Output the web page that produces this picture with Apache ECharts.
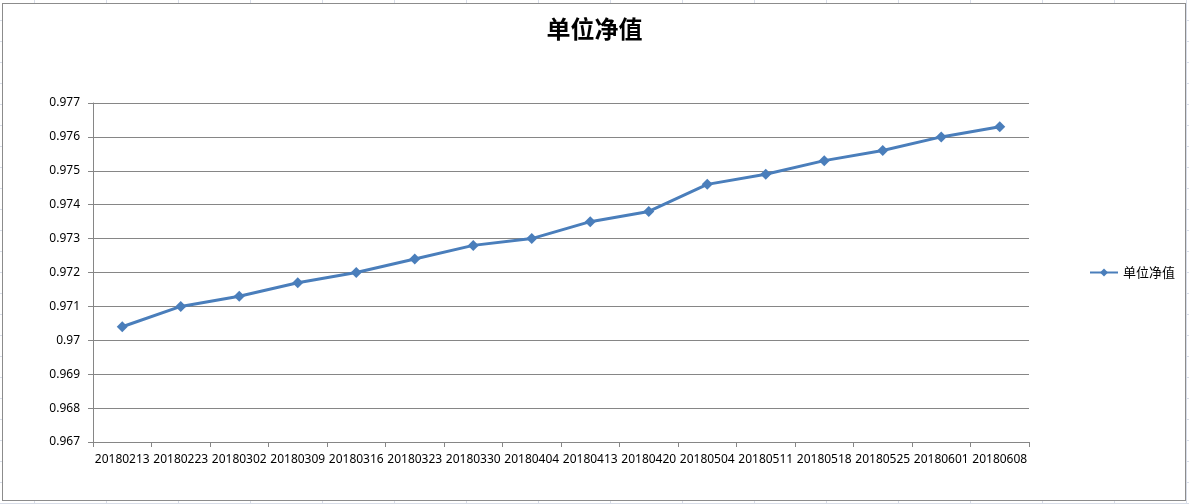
<!DOCTYPE html>
<html>
<head>
<meta charset="utf-8">
<script src="https://cdn.jsdelivr.net/npm/echarts@6/dist/echarts.min.js"></script>
<style>
html, body {
	margin: 0;
	padding: 0;
	width: 1189px;
	height: 504px;
	overflow: hidden;
	background-color: #fff;
	background-image:
		repeating-linear-gradient(to right, transparent 0, transparent 34px, #d8dde8 34px, #d8dde8 35px, transparent 35px, transparent 72px),
		repeating-linear-gradient(to bottom, transparent 0, transparent 20px, #d8dde8 20px, #d8dde8 21px, transparent 21px, transparent 18px);
}
#frame {
	position: absolute;
	left: 2px;
	top: 3px;
	width: 1184px;
	height: 498px;
	box-sizing: border-box;
	border: 1px solid #8c8c8c;
	background: #fff;
}
#main {
	position: absolute;
	left: 0;
	top: 0;
	width: 1189px;
	height: 504px;
}
</style>
</head>
<body>
<div id="frame"></div>
<div id="main"></div>
<script>
var dateList = ['20180213', '20180223', '20180302', '20180309', '20180316', '20180323', '20180330', '20180404',
	'20180413', '20180420', '20180504', '20180511', '20180518', '20180525', '20180601', '20180608'];
var navList = [0.9704, 0.9710, 0.9713, 0.9717, 0.9720, 0.9724, 0.9728, 0.9730,
	0.9735, 0.9738, 0.9746, 0.9749, 0.9753, 0.9756, 0.9760, 0.9763];
var yMin = 0.967;
var yMax = 0.977;
var yStep = 0.001;

var navChart = echarts.init(document.getElementById('main'));

var navOption = {
	animation: false,
	title: {
		text: '单位净值',
		left: 'center',
		top: 12,
		textStyle: {
			fontFamily: 'Noto Sans CJK SC',
			fontSize: 24,
			fontWeight: 'bold',
			color: '#000'
		}
	},
	legend: {
		orient: 'vertical',
		left: 1084,
		top: 261,
		itemWidth: 28,
		itemHeight: 10,
		itemGap: 4,
		textStyle: {
			fontFamily: 'Noto Sans CJK SC',
			fontSize: 13,
			color: '#000'
		},
		data: ['单位净值']
	},
	grid: {
		left: 93,
		right: 160,
		top: 103,
		bottom: 62
	},
	xAxis: {
		type: 'category',
		boundaryGap: true,
		data: dateList,
		axisLine: {
			lineStyle: {
				color: '#868686'
			}
		},
		axisTick: {
			show: true,
			length: 5,
			alignWithLabel: false,
			lineStyle: {
				color: '#868686'
			}
		},
		axisLabel: {
			interval: 0,
			margin: 12,
			fontFamily: 'Noto Sans',
			fontSize: 12,
			color: '#000'
		}
	},
	yAxis: {
		type: 'value',
		min: yMin,
		max: yMax,
		interval: yStep,
		axisLine: {
			show: true,
			lineStyle: {
				color: '#868686'
			}
		},
		axisTick: {
			show: true,
			length: 5,
			lineStyle: {
				color: '#868686'
			}
		},
		axisLabel: {
			margin: 13,
			fontFamily: 'Noto Sans',
			fontSize: 12,
			color: '#000',
			formatter: function(v) {
				return String(parseFloat(v.toFixed(3)));
			}
		},
		splitLine: {
			show: true,
			lineStyle: {
				color: '#868686',
				width: 1
			}
		}
	},
	series: [{
		name: '单位净值',
		type: 'line',
		symbol: 'diamond',
		symbolSize: 11,
		itemStyle: {
			color: '#4a7ebb'
		},
		lineStyle: {
			color: '#4a7ebb',
			width: 3
		},
		data: navList
	}]
};

navChart.setOption(navOption);
</script>
</body>
</html>
